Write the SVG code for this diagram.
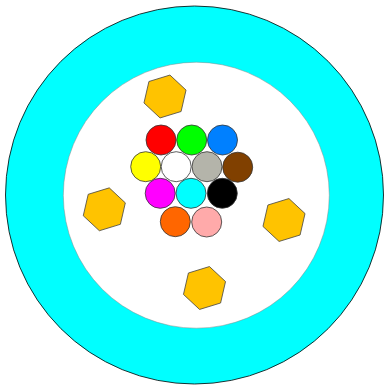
<svg xmlns="http://www.w3.org/2000/svg" width="384" height="387" viewBox="0 0 384 387">
<style>
.fiber{stroke:#333;stroke-width:0.8}
.hex{fill:#FFC300;stroke:#444;stroke-width:0.8}
</style>
<defs>
<polygon id="hexshape" points="21.04,-6.43 16.09,15 -4.95,21.44 -21.04,6.43 -16.09,-15 4.95,-21.44"/>
</defs>
<g id="jacket">
<circle cx="194.5" cy="195" r="189" fill="#00FFFF" stroke="#000" stroke-width="0.8"/>
<circle cx="196.3" cy="195.2" r="133" fill="#FFFFFF" stroke="#888" stroke-width="0.5"/>
</g>
<g id="strength-members">
<use id="hex-top" href="#hexshape" class="hex" transform="translate(165,96.5)"/>
<use id="hex-left" href="#hexshape" class="hex" transform="translate(104.3,209.3)"/>
<use id="hex-right" href="#hexshape" class="hex" transform="translate(284,220)"/>
<use id="hex-bottom" href="#hexshape" class="hex" transform="translate(204.5,288)"/>
</g>
<g id="fibers">
<circle id="f-red" class="fiber" cx="161" cy="140" r="15" fill="#FF0000"/>
<circle id="f-green" class="fiber" cx="191.7" cy="140" r="15" fill="#00FF00"/>
<circle id="f-blue" class="fiber" cx="222.5" cy="140" r="15" fill="#0080FF"/>
<circle id="f-yellow" class="fiber" cx="145.7" cy="166.7" r="15" fill="#FFFF00"/>
<circle id="f-white" class="fiber" cx="176.2" cy="166.7" r="15" fill="#FFFFFF"/>
<circle id="f-gray" class="fiber" cx="207" cy="166.7" r="15" fill="#B4B4AA"/>
<circle id="f-brown" class="fiber" cx="237.7" cy="167.2" r="15" fill="#804000"/>
<circle id="f-magenta" class="fiber" cx="160.2" cy="193.3" r="15" fill="#FF00FF"/>
<circle id="f-cyan" class="fiber" cx="191" cy="193.3" r="15" fill="#00FFFF"/>
<circle id="f-black" class="fiber" cx="222.3" cy="193.3" r="15" fill="#000000"/>
<circle id="f-orange" class="fiber" cx="175.3" cy="221.7" r="15" fill="#FF6600"/>
<circle id="f-pink" class="fiber" cx="206.7" cy="222" r="15" fill="#FFAAAA"/>
</g>
<g id="connectors"/>
</svg>
